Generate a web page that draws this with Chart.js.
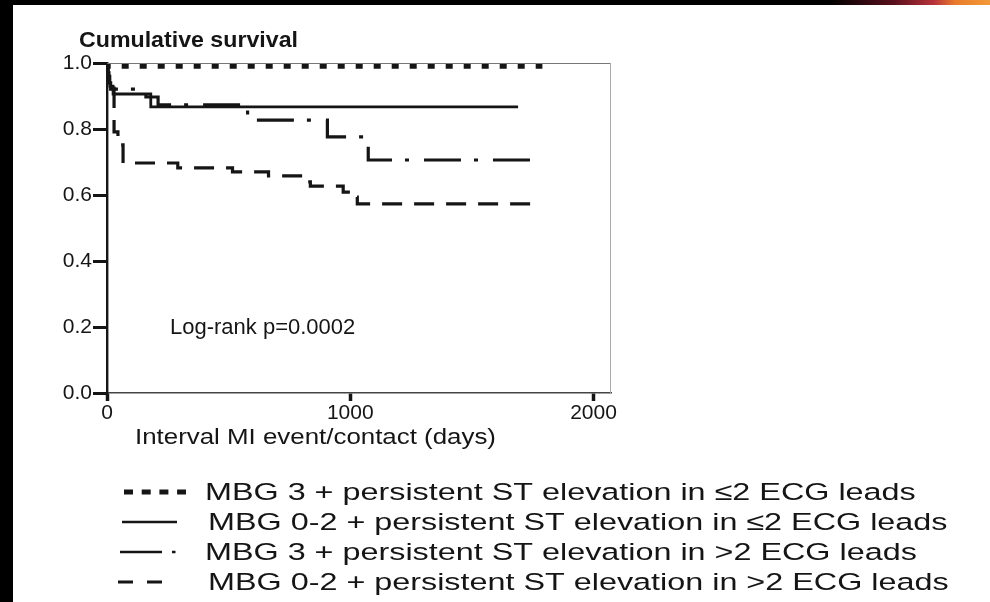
<!DOCTYPE html>
<html><head><meta charset="utf-8">
<script src="https://cdn.jsdelivr.net/npm/chart.js@4.4.1/dist/chart.umd.min.js"></script>
<style>
html,body{margin:0;padding:0;background:#fff;overflow:hidden;width:990px;height:602px;}
canvas{display:block;}
</style></head><body>
<canvas id="c" width="990" height="602"></canvas>
<script>
// ---- data ----
const yTitle = 'Cumulative survival';
const xTitle = 'Interval MI event/contact (days)';
const note = 'Log-rank p=0.0002';
const xTicks = [0, 1000, 2000];
const xTickLabels = ['0', '1000', '2000'];
const yTicks = [0, 0.2, 0.4, 0.6, 0.8, 1.0];
const yTickLabels = ['0.0', '0.2', '0.4', '0.6', '0.8', '1.0'];
const seriesLabels = [
  'MBG 3 + persistent ST elevation in \u22642 ECG leads',
  'MBG 0-2 + persistent ST elevation in \u22642 ECG leads',
  'MBG 3 + persistent ST elevation in >2 ECG leads',
  'MBG 0-2 + persistent ST elevation in >2 ECG leads'
];
const mbg3LowDays  = [0, 4, 1790];
const mbg3LowSurv  = [1.0, 0.99, 0.99];
const mbg02LowDays = [0, 4, 12, 25, 180, 1690];
const mbg02LowSurv = [1.0, 0.96, 0.93, 0.906, 0.867, 0.867];
const mbg3HighDays = [0, 3, 8, 15, 160, 210, 578, 906, 1074, 1791];
const mbg3HighSurv = [1.0, 0.97, 0.94, 0.921, 0.897, 0.873, 0.827, 0.776, 0.706, 0.706];
const mbg02HighDays = [0, 5, 10, 29, 45, 66, 291, 516, 664, 803, 836, 971, 992, 1029, 1770];
const mbg02HighSurv = [1.0, 0.95, 0.924, 0.791, 0.752, 0.697, 0.682, 0.670, 0.658, 0.640, 0.627, 0.609, 0.594, 0.573, 0.573];
const xMin = 0, xMax = 2072;

function pts(xs, ys) { return xs.map((x, i) => ({x: x, y: ys[i]})); }

const FONT = '"Liberation Sans", Arial, sans-serif';
const INK = '#151515';

function stretchedText(ctx, str, x, y, font, k) {
  ctx.save();
  ctx.font = font;
  ctx.translate(x, y);
  ctx.scale(k, 1);
  ctx.fillText(str, 0, 0);
  ctx.restore();
}

const decor = {
  id: 'decor',
  beforeDraw(chart) {
    const ctx = chart.ctx, W = chart.width;
    ctx.save();
    ctx.fillStyle = '#fff';
    ctx.fillRect(0, 0, W, chart.height);
    ctx.fillStyle = '#000';
    ctx.fillRect(0, 0, 13, chart.height);
    const g = ctx.createLinearGradient(830, 0, W, 0);
    g.addColorStop(0, '#000');
    g.addColorStop(0.4, '#5a0f1c');
    g.addColorStop(0.65, '#b8323a');
    g.addColorStop(0.78, '#e87a2a');
    g.addColorStop(1, '#f29a3a');
    ctx.fillStyle = '#000';
    ctx.fillRect(0, 0, W, 5);
    ctx.fillStyle = g;
    ctx.fillRect(830, 0, W - 830, 5);
    ctx.restore();
  },
  afterDraw(chart) {
    const ctx = chart.ctx, a = chart.chartArea;
    ctx.save();
    // frame (top + right)
    ctx.strokeStyle = '#777';
    ctx.lineWidth = 1.2;
    ctx.beginPath();
    ctx.moveTo(a.left, a.top + 0.5); ctx.lineTo(a.right, a.top + 0.5);
    ctx.stroke();
    ctx.strokeStyle = '#aaa';
    ctx.lineWidth = 1;
    ctx.beginPath();
    ctx.moveTo(a.right - 0.5, a.top); ctx.lineTo(a.right - 0.5, a.bottom);
    ctx.stroke();
    ctx.fillStyle = INK;
    ctx.textBaseline = 'middle';
    ctx.textAlign = 'left';
    stretchedText(ctx, yTitle, 79, 41, 'bold 22.5px ' + FONT, 1.03);
    stretchedText(ctx, note, 170, 328, '22px ' + FONT, 1.0);
    stretchedText(ctx, xTitle, 135, 438, '22.5px ' + FONT, 1.15);
    // legend
    const rowsY = [492, 522, 552, 582];
    const textX = [205, 208, 205, 208];
    seriesLabels.forEach((t, i) => stretchedText(ctx, t, textX[i], rowsY[i] + 1, '24.5px ' + FONT, 1.32));
    ctx.strokeStyle = INK;
    ctx.lineCap = 'butt';
    // row 1: squares
    ctx.lineWidth = 5; ctx.setLineDash([9, 8.7]);
    ctx.beginPath(); ctx.moveTo(124, rowsY[0]); ctx.lineTo(186, rowsY[0]); ctx.stroke();
    // row 2: solid
    ctx.setLineDash([]); ctx.lineWidth = 2.6;
    ctx.beginPath(); ctx.moveTo(122, rowsY[1]); ctx.lineTo(177, rowsY[1]); ctx.stroke();
    // row 3: dash dot
    ctx.beginPath(); ctx.moveTo(120, rowsY[2]); ctx.lineTo(162, rowsY[2]);
    ctx.moveTo(172, rowsY[2]); ctx.lineTo(175.5, rowsY[2]); ctx.stroke();
    // row 4: dashes
    ctx.lineWidth = 3;
    ctx.beginPath(); ctx.moveTo(118, rowsY[3]); ctx.lineTo(133, rowsY[3]);
    ctx.moveTo(147, rowsY[3]); ctx.lineTo(162, rowsY[3]); ctx.stroke();
    ctx.restore();
  }
};

const common = {fill: false, pointRadius: 0, pointHoverRadius: 0, stepped: true, borderColor: INK,
  borderCapStyle: 'butt', borderJoinStyle: 'miter', tension: 0};

new Chart(document.getElementById('c'), {
  type: 'line',
  data: {
    datasets: [
      Object.assign({label: seriesLabels[0], data: pts(mbg3LowDays, mbg3LowSurv), borderWidth: 5, borderDash: [7, 11]}, common),
      Object.assign({label: seriesLabels[1], data: pts(mbg02LowDays, mbg02LowSurv), borderWidth: 2.8, borderDash: []}, common),
      Object.assign({label: seriesLabels[2], data: pts(mbg3HighDays, mbg3HighSurv), borderWidth: 3.2, borderDash: [37, 13, 4, 15]}, common),
      Object.assign({label: seriesLabels[3], data: pts(mbg02HighDays, mbg02HighSurv), borderWidth: 3.2, borderDash: [20, 12]}, common)
    ]
  },
  options: {
    responsive: false,
    animation: false,
    layout: {padding: {left: 0, top: 63, right: 379, bottom: 169}},
    plugins: {legend: {display: false}, tooltip: {enabled: false}, title: {display: false}},
    scales: {
      x: {
        type: 'linear', min: xMin, max: xMax,
        afterBuildTicks: s => { s.ticks = xTicks.map(v => ({value: v})); },
        afterFit: s => { s.height = 40; },
        grid: {drawOnChartArea: false, drawTicks: true, tickLength: 8, tickWidth: 3.5, tickColor: INK},
        border: {display: true, color: '#444', width: 1.5},
        ticks: {color: INK, font: {family: FONT, size: 21}, padding: 0, maxRotation: 0, autoSkip: false,
          callback: v => xTickLabels[xTicks.indexOf(v)] }
      },
      y: {
        type: 'linear', min: 0, max: 1,
        afterBuildTicks: s => { s.ticks = yTicks.map(v => ({value: v})); },
        afterFit: s => { s.width = 107; },
        grid: {drawOnChartArea: false, drawTicks: true, tickLength: 14, tickWidth: 3, tickColor: INK},
        border: {display: true, color: INK, width: 2.4},
        ticks: {color: INK, font: {family: FONT, size: 21}, padding: 1,
          callback: v => yTickLabels[yTicks.indexOf(v)] }
      }
    }
  },
  plugins: [decor]
});
</script>
</body></html>
